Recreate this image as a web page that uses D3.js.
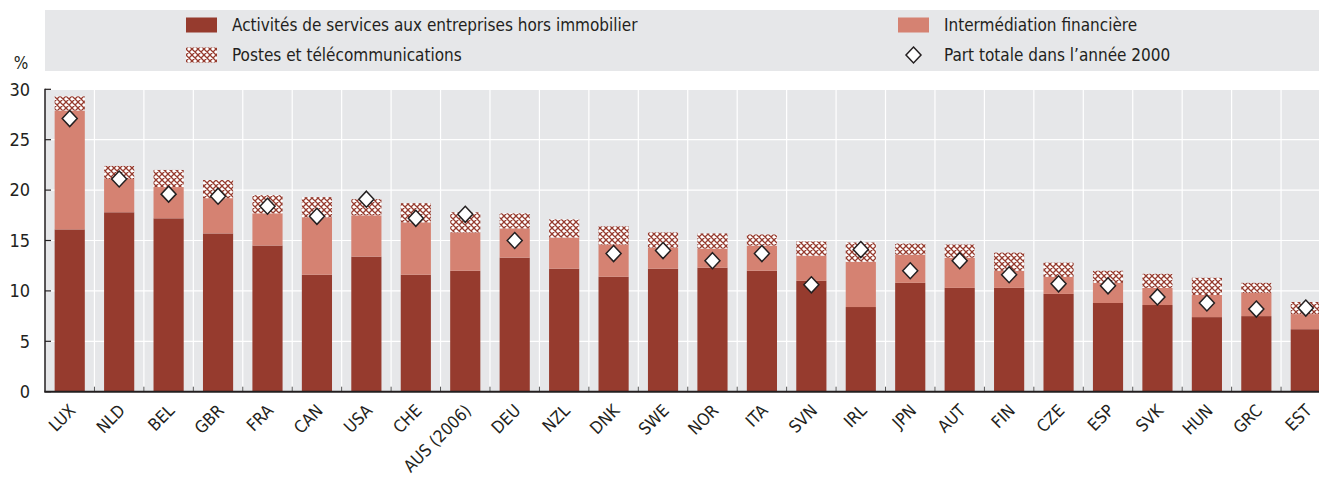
<!DOCTYPE html>
<html>
<head>
<meta charset="utf-8">
<script src="https://cdn.jsdelivr.net/npm/d3@7"></script>
<style>
  body { margin: 0; background: #fff; }
  svg text { font-family: "Liberation Sans Narrow", "DejaVu Sans Condensed", "Roboto", sans-serif; fill: #231f20; }
</style>
</head>
<body>
<div id="chart"></div>
<script>
let countries = ['LUX', 'NLD', 'BEL', 'GBR', 'FRA', 'CAN', 'USA', 'CHE', 'AUS (2006)', 'DEU', 'NZL', 'DNK', 'SWE',
  'NOR', 'ITA', 'SVN', 'IRL', 'JPN', 'AUT', 'FIN', 'CZE', 'ESP', 'SVK', 'HUN', 'GRC', 'EST'];
let business = [16.1, 17.8, 17.2, 15.7, 14.5, 11.6, 13.4, 11.6, 12.0, 13.3, 12.2, 11.4, 12.2,
  12.3, 12.0, 11.0, 8.4, 10.8, 10.3, 10.3, 9.7, 8.8, 8.6, 7.4, 7.5, 6.2];
let finance = [11.8, 3.3, 3.1, 3.5, 3.2, 5.7, 4.1, 5.2, 3.8, 2.9, 3.1, 3.2, 2.1,
  1.9, 2.5, 2.5, 4.5, 2.8, 3.0, 1.7, 1.7, 2.0, 1.7, 2.2, 2.3, 1.5];
let telecom = [1.4, 1.3, 1.7, 1.8, 1.8, 2.0, 1.6, 1.9, 2.0, 1.5, 1.8, 1.8, 1.5,
  1.5, 1.1, 1.4, 1.9, 1.1, 1.3, 1.8, 1.4, 1.2, 1.4, 1.7, 1.0, 1.2];
let total2000 = [27.1, 21.1, 19.6, 19.4, 18.4, 17.4, 19.1, 17.2, 17.6, 15.0, null, 13.7, 14.0,
  13.0, 13.7, 10.6, 14.1, 12.0, 13.0, 11.6, 10.7, 10.5, 9.4, 8.8, 8.2, 8.3];
let yTicks = [0, 5, 10, 15, 20, 25, 30];
let seriesNames = ['Activités de services aux entreprises hors immobilier', 'Intermédiation financière',
  'Postes et télécommunications', 'Part totale dans l’année 2000'];

let width = 1319, height = 478;
let plotLeft = 45, plotRight = 1330.5, plotTop = 89.3, plotBottom = 391.7;
let darkRed = '#963b2e', salmon = '#d58272', bg = '#e6e7e9', ink = '#231f20';

let svg = d3.select('#chart').append('svg')
  .attr('width', width)
  .attr('height', height);

let defs = svg.append('defs');
let pat = defs.append('pattern')
  .attr('id', 'hatch')
  .attr('patternUnits', 'userSpaceOnUse')
  .attr('width', 6)
  .attr('height', 6);
pat.append('rect').attr('width', 6).attr('height', 6).attr('fill', '#fff');
pat.append('path')
  .attr('d', 'M0,0L6,6M6,0L0,6M-1,5L1,7M5,-1L7,1M-1,1L1,-1M5,7L7,5')
  .attr('stroke', darkRed)
  .attr('stroke-width', 1.3);

let x = d3.scaleBand()
  .domain(countries)
  .range([plotLeft, plotRight])
  .paddingInner(0.39)
  .paddingOuter(0.195);

let y = d3.scaleLinear()
  .domain([0, 30])
  .range([plotBottom, plotTop]);

// legend
let legend = svg.append('g');
legend.append('rect')
  .attr('x', plotLeft).attr('y', 10)
  .attr('width', width - plotLeft).attr('height', 61)
  .attr('fill', bg);

let legendItems = [
  { name: seriesNames[0], kind: 'dark', x: 186, y: 25 },
  { name: seriesNames[1], kind: 'salmon', x: 898, y: 25 },
  { name: seriesNames[2], kind: 'hatch', x: 186, y: 55 },
  { name: seriesNames[3], kind: 'diamond', x: 898, y: 55 }
];
let li = legend.selectAll('.item')
  .data(legendItems)
  .enter().append('g')
  .attr('class', 'item')
  .attr('transform', d => `translate(${d.x},${d.y})`);

li.filter(d => d.kind !== 'diamond').append('rect')
  .attr('x', 0).attr('y', -7.5)
  .attr('width', 31).attr('height', 15)
  .attr('fill', d => d.kind === 'dark' ? darkRed : d.kind === 'salmon' ? salmon : 'url(#hatch)');

let diamond = (cx, cy) => `M${cx},${cy - 8}L${cx + 7.5},${cy}L${cx},${cy + 8}L${cx - 7.5},${cy}Z`;

li.filter(d => d.kind === 'diamond').append('path')
  .attr('d', diamond(15.5, 0))
  .attr('fill', '#fff')
  .attr('stroke', ink)
  .attr('stroke-width', 1.5);

li.append('text')
  .attr('x', 46)
  .attr('dy', '0.35em')
  .style('font-size', '17px')
  .text(d => d.name);

// plot background and grid
svg.append('rect')
  .attr('x', plotLeft).attr('y', plotTop)
  .attr('width', plotRight - plotLeft).attr('height', plotBottom - plotTop)
  .attr('fill', bg);

let gap = (x.step() - x.bandwidth()) / 2;
let bounds = countries.map(c => x(c) - gap);

svg.append('g').selectAll('line')
  .data(yTicks.filter(t => t > 0))
  .enter().append('line')
  .attr('x1', plotLeft).attr('x2', plotRight)
  .attr('y1', d => y(d)).attr('y2', d => y(d))
  .attr('stroke', '#fff')
  .attr('stroke-width', 1.2);

svg.append('g').selectAll('line')
  .data(bounds.slice(1))
  .enter().append('line')
  .attr('x1', d => d).attr('x2', d => d)
  .attr('y1', plotTop).attr('y2', plotBottom)
  .attr('stroke', '#fff')
  .attr('stroke-width', 1.2);

// stacked bars
let rows = countries.map((c, i) => ({ country: c, business: business[i], finance: finance[i], telecom: telecom[i], total: total2000[i] }));
let stack = d3.stack().keys(['business', 'finance', 'telecom']);
let fills = { business: darkRed, finance: salmon, telecom: 'url(#hatch)' };

svg.append('g').selectAll('g')
  .data(stack(rows))
  .enter().append('g')
  .attr('fill', s => fills[s.key])
  .selectAll('rect')
  .data(s => s)
  .enter().append('rect')
  .attr('x', d => x(d.data.country))
  .attr('width', x.bandwidth())
  .attr('y', d => y(d[1]))
  .attr('height', d => y(d[0]) - y(d[1]));

// diamonds
svg.append('g').selectAll('path')
  .data(rows.filter(r => r.total != null))
  .enter().append('path')
  .attr('d', r => diamond(x(r.country) + x.bandwidth() / 2, y(r.total)))
  .attr('fill', '#fff')
  .attr('stroke', ink)
  .attr('stroke-width', 1.5);

// axes
let yAxis = svg.append('g');
yAxis.append('line')
  .attr('x1', plotLeft).attr('x2', plotLeft)
  .attr('y1', plotTop - 0.5).attr('y2', plotBottom)
  .attr('stroke', ink).attr('stroke-width', 1.5);
yAxis.selectAll('.tick')
  .data(yTicks)
  .enter().append('line')
  .attr('x1', plotLeft).attr('x2', plotLeft + 6)
  .attr('y1', d => y(d)).attr('y2', d => y(d))
  .attr('stroke', ink).attr('stroke-width', 1.2);
yAxis.selectAll('text')
  .data(yTicks)
  .enter().append('text')
  .attr('x', 30)
  .attr('y', d => y(d))
  .attr('dy', '0.35em')
  .attr('text-anchor', 'end')
  .style('font-size', '18px')
  .text(d => d);

svg.append('text')
  .attr('x', 21).attr('y', 63)
  .attr('dy', '0.35em')
  .attr('text-anchor', 'middle')
  .style('font-size', '17px')
  .text('%');

let xAxis = svg.append('g');
xAxis.selectAll('line')
  .data(bounds.slice(1))
  .enter().append('line')
  .attr('x1', d => d).attr('x2', d => d)
  .attr('y1', plotBottom).attr('y2', plotBottom - 5)
  .attr('stroke', '#555').attr('stroke-width', 1);
xAxis.append('line')
  .attr('x1', plotLeft - 0.75).attr('x2', plotRight)
  .attr('y1', plotBottom).attr('y2', plotBottom)
  .attr('stroke', ink).attr('stroke-width', 2);

xAxis.selectAll('text')
  .data(countries)
  .enter().append('text')
  .attr('transform', d => `translate(${x(d) + x.bandwidth() / 2 + 7},${plotBottom + 20}) rotate(-45)`)
  .attr('text-anchor', 'end')
  .style('font-size', '17px')
  .text(d => d);
</script>
</body>
</html>
